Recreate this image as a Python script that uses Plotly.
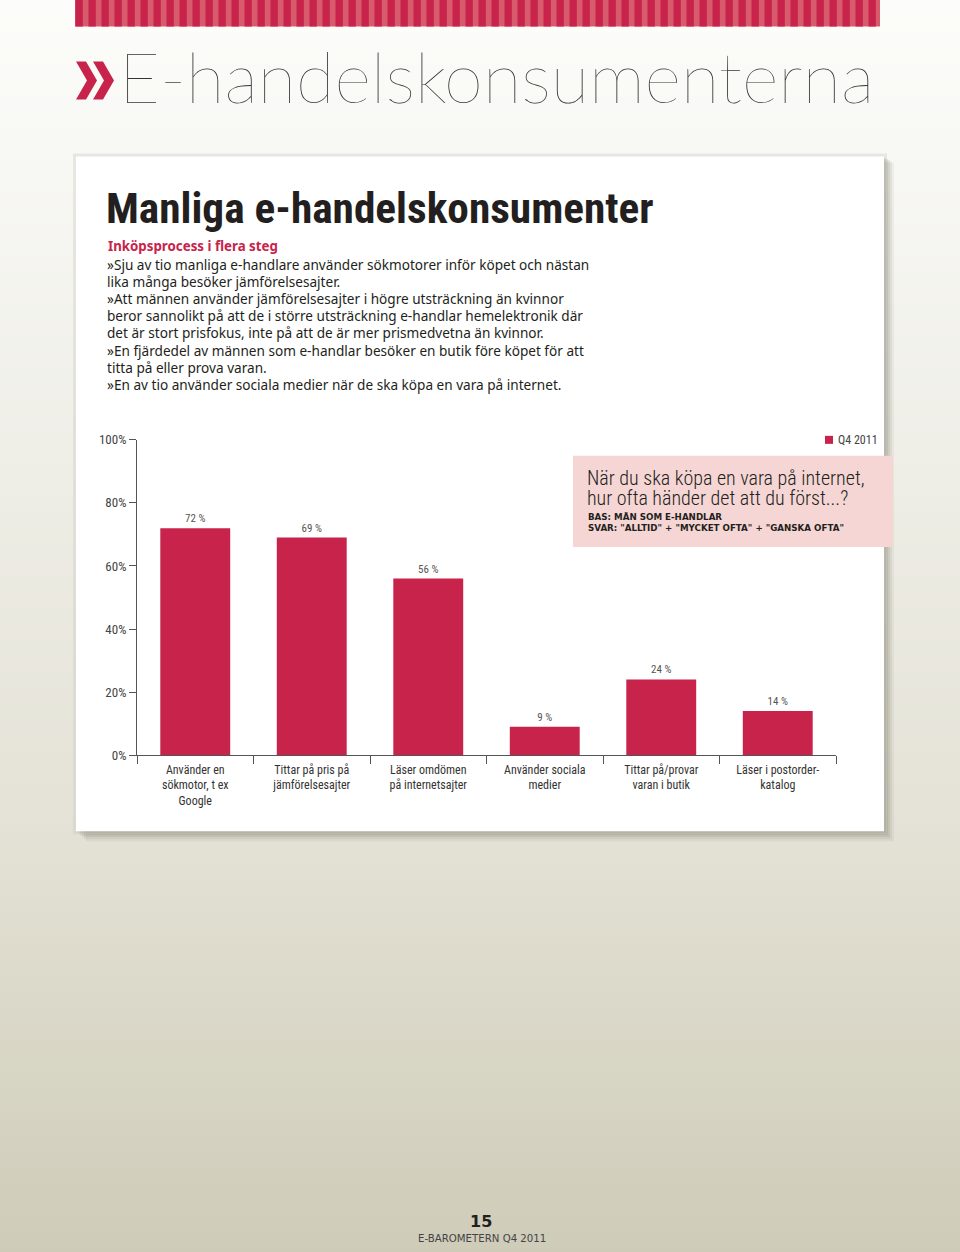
import plotly.graph_objects as go

W, H = 960, 1252

# ---- data ----
categories = [
    "Använder en<br>sökmotor, t ex<br>Google",
    "Tittar på pris på<br>jämförelsesajter",
    "Läser omdömen<br>på internetsajter",
    "Använder sociala<br>medier",
    "Tittar på/provar<br>varan i butik",
    "Läser i postorder-<br>katalog",
]
values_q4_2011 = [72, 69, 56, 9, 24, 14]
value_labels = ["72 %", "69 %", "56 %", "9 %", "24 %", "14 %"]
y_tick_vals = [0, 20, 40, 60, 80, 100]
y_tick_text = ["0%", "20%", "40%", "60%", "80%", "100%"]
series_name = "Q4 2011"

page_title = "E-handelskonsumenterna"
card_title = "Manliga e-handelskonsumenter"
subhead = "Inköpsprocess i flera steg"
body_lines = [
    "»Sju av tio manliga e-handlare använder sökmotorer inför köpet och nästan",
    "lika många besöker jämförelsesajter.",
    "»Att männen använder jämförelsesajter i högre utsträckning än kvinnor",
    "beror sannolikt på att de i större utsträckning e-handlar hemelektronik där",
    "det är stort prisfokus, inte på att de är mer prismedvetna än kvinnor.",
    "»En fjärdedel av männen som e-handlar besöker en butik före köpet för att",
    "titta på eller prova varan.",
    "»En av tio använder sociala medier när de ska köpa en vara på internet.",
]
question_lines = ["När du ska köpa en vara på internet,", "hur ofta händer det att du först...?"]
base_lines = ["BAS: MÄN SOM E-HANDLAR", 'SVAR: "ALLTID" + "MYCKET OFTA" + "GANSKA OFTA"']
page_number = "15"
footer = "E-BAROMETERN Q4 2011"

# ---- style ----
RED = "#c8234a"
RED_LIGHT = "#d75b6d"
NARROW = "Liberation Sans Narrow, Roboto Condensed, DejaVu Sans Condensed, Arial Narrow, sans-serif"
BODY = "Noto Sans, Open Sans, sans-serif"

# the photographed page comes out slightly squeezed vertically; positions below are
# given in picture pixels and mapped back to figure coordinates here
V_OFF, V_SCALE = 7.5, 0.9872


def X(px):
    return px / W


def Y(py):
    return 1 - ((py - V_OFF) / V_SCALE) / H


shapes = []
# page gradient background
stops = [(-20, (253, 253, 251)), (150, (248, 248, 245)), (830, (228, 226, 214)), (1280, (205, 202, 182))]
band = 16
for y0 in range(-16, 1270, band):
    yc = y0 + band / 2
    for (a, ca), (b, cb) in zip(stops[:-1], stops[1:]):
        if a <= yc <= b:
            t = (yc - a) / (b - a)
            c = tuple(round(ca[i] + (cb[i] - ca[i]) * t) for i in range(3))
            break
    shapes.append(dict(type="rect", xref="paper", yref="paper", x0=0, x1=1,
                       y0=Y(y0 + band + 1), y1=Y(y0), line_width=0,
                       fillcolor="rgb(%d,%d,%d)" % c, layer="below"))

# top stripes
shapes.append(dict(type="rect", xref="paper", yref="paper", x0=X(75), x1=X(880), y0=Y(27), y1=Y(-5),
                   line_width=0, fillcolor=RED_LIGHT, layer="below"))
sx = 75.5
while sx < 880:
    shapes.append(dict(type="rect", xref="paper", yref="paper", x0=X(sx), x1=X(min(sx + 7.3, 880)),
                       y0=Y(27), y1=Y(-5), line_width=0, fillcolor=RED, layer="below"))
    sx += 13

# chevrons
for dx in (0, 17):
    pts = [(76 + dx, 62), (86 + dx, 62), (97 + dx, 81), (86 + dx, 100), (76 + dx, 100), (87 + dx, 81)]
    path = "M " + " L ".join("%.5f,%.5f" % (X(px), Y(py)) for px, py in pts) + " Z"
    shapes.append(dict(type="path", xref="paper", yref="paper", path=path, line_width=0,
                       fillcolor=RED, layer="below"))

# card shadow (soft)
for off, op in [(10, 0.06), (8, 0.08), (6, 0.10), (4, 0.12), (2, 0.14)]:
    shapes.append(dict(type="rect", xref="paper", yref="paper", x0=X(76 + off), x1=X(884 + off),
                       y0=Y(831 + off), y1=Y(157 + off * 0.6), line_width=0,
                       fillcolor="rgba(90,88,70,%.2f)" % op, layer="below"))
shapes.append(dict(type="rect", xref="paper", yref="paper", x0=X(73), x1=X(887), y0=Y(834), y1=Y(154),
                   line_width=0, fillcolor="rgba(200,200,190,0.35)", layer="below"))
# card
shapes.append(dict(type="rect", xref="paper", yref="paper", x0=X(76), x1=X(884), y0=Y(831), y1=Y(157),
                   line_width=0, fillcolor="#ffffff", layer="below"))
# question box
shapes.append(dict(type="rect", xref="paper", yref="paper", x0=X(573), x1=X(893), y0=Y(547), y1=Y(456),
                   line_width=0, fillcolor="#f5d6d4", layer="below"))
# legend swatch
shapes.append(dict(type="rect", xref="paper", yref="paper", x0=X(825), x1=X(833), y0=Y(444), y1=Y(436),
                   line_width=0, fillcolor=RED))

annotations = []


def txt(text, x, y, size, color, family, xanchor="left", weight=None):
    f = dict(size=size, color=color, family=family)
    if weight is not None:
        f["weight"] = weight
    annotations.append(dict(text=text, x=X(x), y=Y(y), xref="paper", yref="paper", xanchor=xanchor,
                            yanchor="middle", showarrow=False, font=f, borderpad=0))


txt(page_title, 118, 76, 70.5, "#333333", "Lato, Roboto, sans-serif", weight=200)
txt(card_title, 105, 209, 43.3, "#231f20", NARROW, weight=700)
txt(subhead, 107, 246, 13.3, RED, BODY, weight=700)
body_y = [265, 282, 299, 316, 333, 351, 368, 385]
for line, yy in zip(body_lines, body_y):
    txt(line, 106, yy, 13.6, "#231f20", BODY)
for line, yy in zip(question_lines, [478.5, 498]):
    txt(line, 586, yy, 20, "#231f20", NARROW, weight=300)
for line, yy in zip(base_lines, [517, 528]):
    txt(line, 587, yy, 8.7, "#231f20", "DejaVu Sans, sans-serif", weight=700)
txt(series_name, 837, 440, 12, "#444444", NARROW)
txt(page_number, 481, 1221, 16, "#231f20", "DejaVu Sans, sans-serif", xanchor="center", weight=700)
txt(footer, 482, 1238, 10.2, "#444444", "DejaVu Sans, sans-serif", xanchor="center")

fig = go.Figure()
fig.add_trace(go.Bar(
    x=categories, y=values_q4_2011, name=series_name, width=0.6,
    marker=dict(color=RED, line_width=0),
    text=value_labels, textposition="outside", cliponaxis=False,
    textfont=dict(size=11, color="#555555", family=NARROW),
    hoverinfo="skip", showlegend=False,
))

fig.update_layout(
    width=W, height=H, autosize=False,
    margin=dict(l=0, r=0, t=0, b=0, pad=0),
    paper_bgcolor="#ffffff", plot_bgcolor="rgba(0,0,0,0)",
    shapes=shapes, annotations=annotations,
    showlegend=False, bargap=0.4,
    xaxis=dict(domain=[X(137), X(836)], type="category", categoryorder="array",
               categoryarray=categories, range=[-0.5, 5.5],
               showline=True, linecolor="#555555", linewidth=1,
               ticks="outside", tickson="boundaries", ticklen=8, tickcolor="#555555",
               ticklabelstandoff=3,
               tickfont=dict(size=12, color="#333333", family=NARROW),
               showgrid=False, zeroline=False, fixedrange=True),
    yaxis=dict(domain=[Y(755), Y(440)], range=[0, 100],
               tickvals=y_tick_vals, ticktext=y_tick_text,
               showline=True, linecolor="#555555", linewidth=1,
               ticks="outside", ticklen=7, tickcolor="#555555",
               tickfont=dict(size=13, color="#444444", family=NARROW),
               showgrid=False, zeroline=False, fixedrange=True),
)

fig.write_html("out.html", config={"displayModeBar": False})
